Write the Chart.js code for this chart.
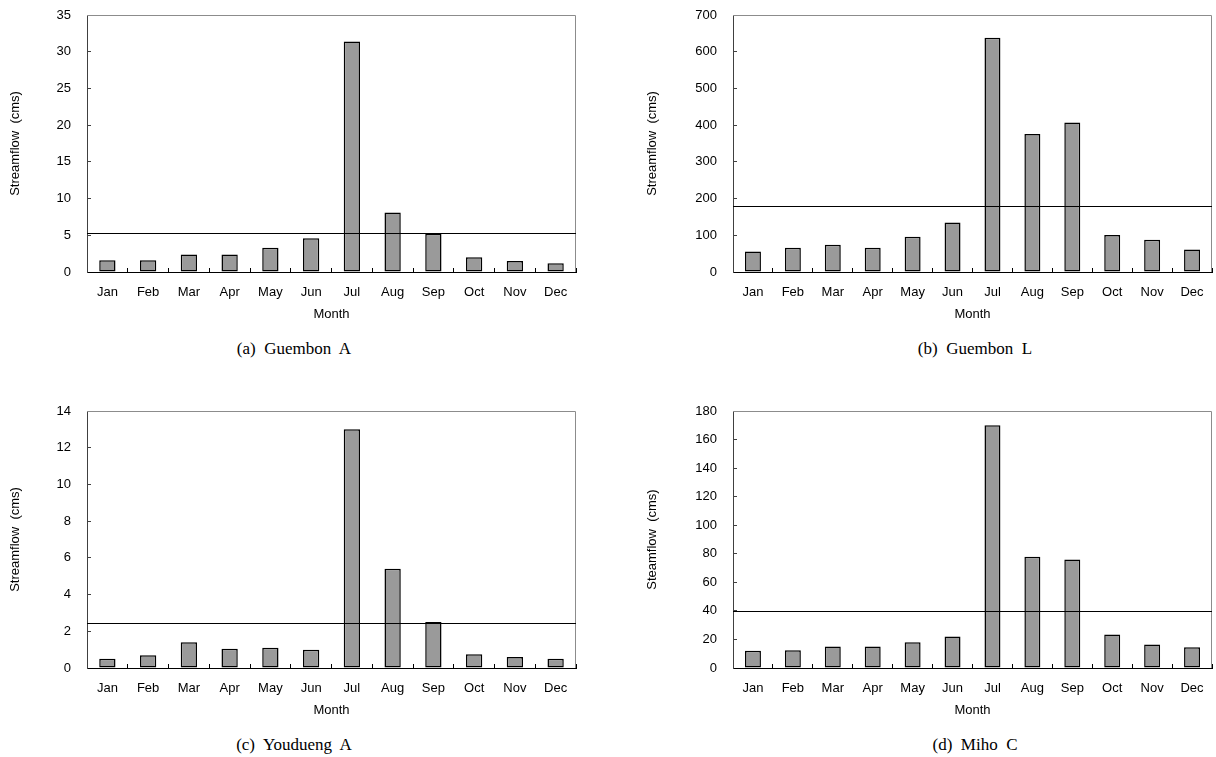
<!DOCTYPE html>
<html>
<head>
<meta charset="utf-8">
<script src="https://cdn.jsdelivr.net/npm/chart.js@4"></script>
<style>
  body { margin: 0; background: #fff; width: 1216px; height: 757px; position: relative; overflow: hidden; }
  canvas { position: absolute; }
  .cap { position: absolute; font-family: "Liberation Serif", "Times New Roman", serif; font-size: 17px; color: #000;
         white-space: pre; transform: translate(-50%, -50%); }
</style>
</head>
<body>
<canvas id="c0" width="608" height="330" style="left:0;top:0"></canvas>
<canvas id="c1" width="620" height="330" style="left:608px;top:0"></canvas>
<canvas id="c2" width="608" height="330" style="left:0;top:396px"></canvas>
<canvas id="c3" width="620" height="330" style="left:608px;top:396px"></canvas>
<div class="cap" style="left:294px;top:349px">(a)  Guembon  A</div>
<div class="cap" style="left:975px;top:349px">(b)  Guembon  L</div>
<div class="cap" style="left:294px;top:745px">(c)  Youdueng  A</div>
<div class="cap" style="left:975px;top:745px">(d)  Miho  C</div>
<script>
// data
const months = ["Jan", "Feb", "Mar", "Apr", "May", "Jun", "Jul", "Aug", "Sep", "Oct", "Nov", "Dec"];
const guembonA = [1.6, 1.6, 2.4, 2.4, 3.3, 4.6, 31.4, 8.1, 5.2, 2.0, 1.5, 1.2];
const guembonL = [56, 66, 74, 66, 96, 135, 638, 376, 407, 101, 88, 61];
const youduengA = [0.5, 0.7, 1.4, 1.05, 1.1, 1.0, 13.0, 5.4, 2.5, 0.75, 0.6, 0.5];
const mihoC = [12, 12.5, 15, 15, 18, 22, 170, 78, 76, 23.5, 16.5, 14.5];
const means = [5.3, 180, 2.45, 40];
const yMax = [35, 700, 14, 180];
const yStep = [5, 100, 2, 20];
const yTitles = ["Streamflow  (cms)", "Streamflow  (cms)", "Streamflow  (cms)", "Steamflow  (cms)"];

const series = [guembonA, guembonL, youduengA, mihoC];

// frame (top/right) and the mean line
const extras = {
  id: "extras",
  beforeDatasetsDraw(chart) {
    const { ctx, chartArea: a } = chart;
    ctx.save();
    ctx.strokeStyle = "#8c8c8c";
    ctx.lineWidth = 1;
    ctx.beginPath();
    ctx.moveTo(a.left, a.top + 0.5);
    ctx.lineTo(a.right - 0.5, a.top + 0.5);
    ctx.lineTo(a.right - 0.5, a.bottom);
    ctx.stroke();
    ctx.restore();
  },
  afterDatasetsDraw(chart, args, opts) {
    const { ctx, chartArea: a, scales: { y } } = chart;
    const py = Math.round(y.getPixelForValue(opts.mean)) + 0.5;
    ctx.save();
    ctx.strokeStyle = "#000";
    ctx.lineWidth = 1.2;
    ctx.beginPath();
    ctx.moveTo(a.left, py);
    ctx.lineTo(a.right, py);
    ctx.stroke();
    ctx.restore();
  }
};

const font = { family: "'Liberation Sans', Arial, sans-serif", size: 13 };

function makeChart(i) {
  const yWidth = i % 2 === 0 ? 87 : 125;
  const titlePad = i % 2 === 0 ? 8 : 37;
  const padRight = i % 2 === 0 ? 32 : 16;
  new Chart(document.getElementById("c" + i), {
    type: "bar",
    data: {
      labels: months,
      datasets: [{
        data: series[i],
        backgroundColor: "#9a9a9a",
        borderColor: "#000",
        borderWidth: 1.5,
        borderSkipped: false,
        barPercentage: 0.4,
        categoryPercentage: 1
      }]
    },
    plugins: [extras],
    options: {
      responsive: false,
      animation: false,
      events: [],
      layout: { padding: { left: 0, right: padRight, top: 15, bottom: 0 } },
      plugins: {
        legend: { display: false },
        tooltip: { enabled: false },
        extras: { mean: means[i] }
      },
      scales: {
        x: {
          grid: { drawOnChartArea: false, tickLength: -4, color: "#000", offset: true },
          border: { color: "#000", width: 1 },
          ticks: { color: "#000", font: font, padding: 17, maxRotation: 0 },
          title: { display: true, text: "Month", color: "#000", font: font, padding: { top: 0, bottom: 8 } },
          afterFit(s) { s.height = 58; }
        },
        y: {
          min: 0,
          max: yMax[i],
          ticks: { stepSize: yStep[i], color: "#000", font: font, padding: 20 },
          grid: { drawOnChartArea: false, tickLength: -4, color: "#404040" },
          border: { color: "#404040", width: 1 },
          title: { display: true, text: yTitles[i], color: "#000",
                   font: { family: font.family, size: 13 }, padding: { top: titlePad, bottom: 0 } },
          afterFit(s) { s.width = yWidth; s.paddingTop = 0; s.paddingBottom = 0; }
        }
      }
    }
  });
}

for (let i = 0; i < 4; i++) makeChart(i);
</script>
</body>
</html>
